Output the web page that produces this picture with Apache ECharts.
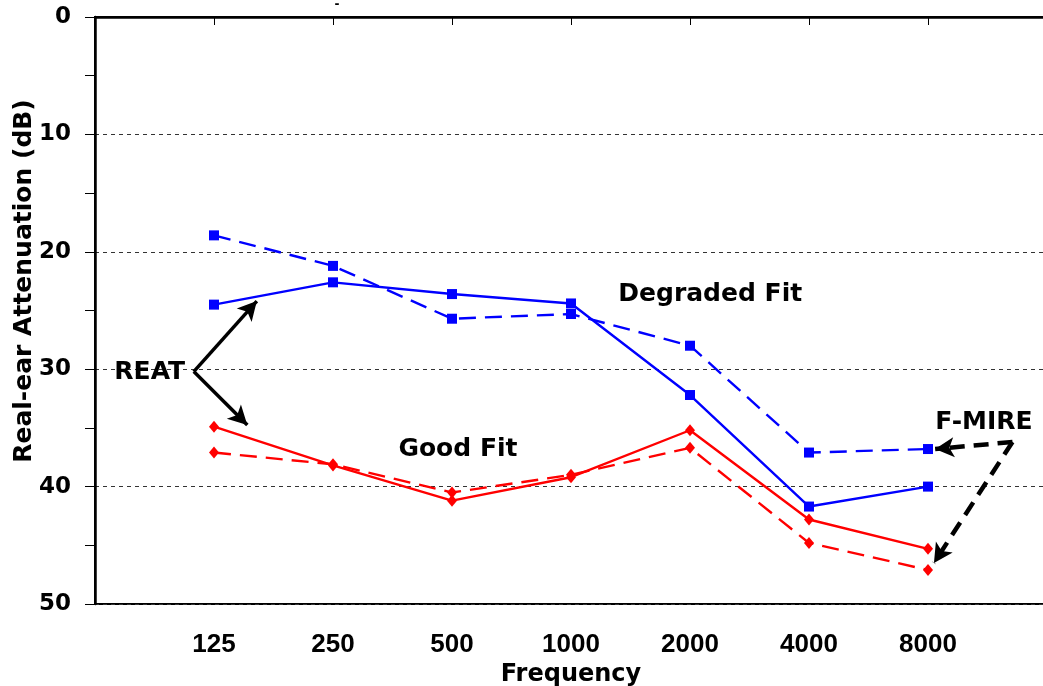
<!DOCTYPE html>
<html>
<head>
<meta charset="utf-8">
<script src="https://cdn.jsdelivr.net/npm/echarts@6/dist/echarts.min.js"></script>
<style>
html,body{margin:0;padding:0;background:#fff;}
#chart{width:1043px;height:686px;}
</style>
</head>
<body>
<div id="chart"></div>
<script>
// ---- data ----
const categories = ['125', '250', '500', '1000', '2000', '4000', '8000'];
const yTicks = [0, 10, 20, 30, 40, 50];
const degradedREAT  = [24.5, 22.6, 23.6, 24.4, 32.2, 41.7, 40.0];
const degradedFMIRE = [18.6, 21.2, 25.7, 25.3, 28.0, 37.1, 36.8];
const goodREAT      = [34.9, 38.2, 41.2, 39.2, 35.2, 42.8, 45.3];
const goodFMIRE     = [37.1, 38.1, 40.5, 39.0, 36.7, 44.8, 47.1];

// annotations (data units: x = category slot, y = dB)
const annoTexts = [
  { text: 'Degraded Fit', at: [5.17, 23.6] },
  { text: 'Good Fit',     at: [3.05, 36.8] },
  { text: 'REAT',         at: [0.46, 30.25] },
  { text: 'F-MIRE',       at: [7.47, 34.55] }
];
const reatArrows  = [ [[0.83, 30.2], [1.36, 24.2]], [[0.83, 30.2], [1.28, 34.75]] ];
const fmireArrows = [ [[7.71, 36.2], [7.06, 36.8]], [[7.71, 36.2], [7.05, 46.5]] ];

const toPts = arr => arr.map((v, i) => [i + 1, v]);
const boldFont = 'DejaVu Sans';

const chart = echarts.init(document.getElementById('chart'), null, { renderer: 'canvas' });

function lineSeries(name, data, color, dashed, symbol, size) {
  return {
    name, type: 'line', data: toPts(data),
    symbol, symbolSize: size, showSymbol: true,
    itemStyle: { color },
    lineStyle: { color, width: 2.4, type: dashed ? [17, 9] : 'solid' },
    z: 3, animation: false
  };
}

function arrowLines(list) {
  return list.map(a => [ { coord: a[0] }, { coord: a[1] } ]);
}

const option = {
  animation: false,
  backgroundColor: '#fff',
  grid: {
    left: 95, top: 17, width: 952, height: 587,
    outerBoundsMode: 'none', containLabel: false,
    show: true, borderColor: '#000', borderWidth: 2, backgroundColor: 'transparent'
  },
  xAxis: {
    type: 'value', min: 0, max: 8, interval: 1,
    axisLine: { show: true, lineStyle: { color: '#000', width: 2.5 } },
    axisTick: { show: true, length: 8, lineStyle: { color: '#000', width: 1 } },
    axisLabel: {
      margin: 28, color: '#000', fontFamily: 'Liberation Sans', fontWeight: 'bold', fontSize: 26,
      formatter: v => (v >= 1 && v <= categories.length) ? categories[v - 1] : ''
    },
    splitLine: { show: false },
    name: 'Frequency', nameLocation: 'middle', nameGap: 52,
    nameTextStyle: { color: '#000', fontFamily: boldFont, fontWeight: 'bold', fontSize: 24 }
  },
  yAxis: {
    type: 'value', inverse: true, min: yTicks[0], max: yTicks[yTicks.length - 1], interval: 10,
    axisLine: { show: true, lineStyle: { color: '#000', width: 2.5 } },
    axisTick: { show: true, length: 10, lineStyle: { color: '#000', width: 1 } },
    minorTick: { show: true, splitNumber: 2, length: 10, lineStyle: { color: '#000', width: 1 } },
    axisLabel: { margin: 24, color: '#000', fontFamily: boldFont, fontWeight: 'bold', fontSize: 23 },
    splitLine: { show: true, lineStyle: { color: '#333', width: 1, type: [4, 4] } }
  },
  series: [
    lineSeries('Degraded REAT', degradedREAT, '#0000FF', false, 'rect', 10),
    lineSeries('Degraded F-MIRE', degradedFMIRE, '#0000FF', true, 'rect', 10),
    lineSeries('Good REAT', goodREAT, '#FF0000', false, 'diamond', [10, 12]),
    lineSeries('Good F-MIRE', goodFMIRE, '#FF0000', true, 'diamond', [10, 12]),
    {
      type: 'line', data: [], silent: true, animation: false,
      markLine: {
        silent: true, animation: false, symbol: ['none', 'arrow'], symbolSize: [15, 19],
        label: { show: false },
        lineStyle: { color: '#000', width: 3.5, type: 'solid' },
        emphasis: { disabled: true },
        data: arrowLines(reatArrows)
      }
    },
    {
      type: 'line', data: [], silent: true, animation: false,
      markLine: {
        silent: true, animation: false, symbol: ['none', 'arrow'], symbolSize: [15, 19],
        label: { show: false },
        lineStyle: { color: '#000', width: 4.5, type: [15, 9] },
        emphasis: { disabled: true },
        data: arrowLines(fmireArrows)
      }
    }
  ]
};
chart.setOption(option);

const graphics = annoTexts.map(a => {
  const p = chart.convertToPixel({ gridIndex: 0 }, a.at);
  return {
    type: 'text', x: p[0], y: p[1], silent: true,
    style: { text: a.text, fill: '#000', font: 'bold 25px "DejaVu Sans"', textAlign: 'center', textVerticalAlign: 'middle' }
  };
});
graphics.push({
  type: 'text', x: 24, y: 281, rotation: Math.PI / 2, silent: true,
  style: { text: 'Real-ear Attenuation (dB)', fill: '#000', font: 'bold 25px "DejaVu Sans"', textAlign: 'center', textVerticalAlign: 'middle' }
});
graphics.push({
  type: 'text', x: 337, y: 5, silent: true,
  style: { text: '-', fill: '#000', font: 'bold 12px "DejaVu Sans"', textAlign: 'center', textVerticalAlign: 'middle' }
});
chart.setOption({ graphic: graphics });
</script>
</body>
</html>
